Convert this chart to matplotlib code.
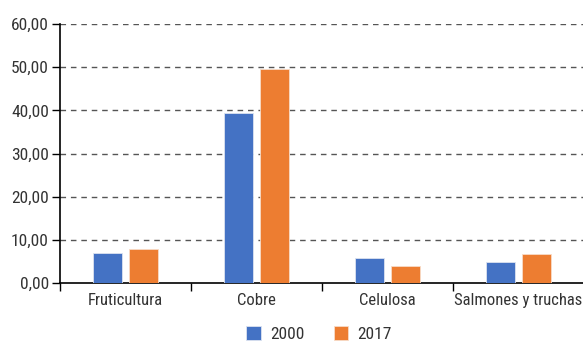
import numpy as np
import matplotlib.pyplot as plt
from matplotlib.ticker import FuncFormatter

# datos
categorias = ["Fruticultura", "Cobre", "Celulosa", "Salmones y truchas"]
valores_2000 = [6.9, 39.3, 5.7, 4.9]
valores_2017 = [7.9, 49.5, 3.9, 6.8]
anios = ["2000", "2017"]

plt.rcParams['font.family'] = ['Roboto Condensed', 'DejaVu Sans']

fig = plt.figure(figsize=(5.83, 3.41), dpi=100)
ax = fig.add_axes([60/583, 1 - 283/341, 524/583, 259/341])

x = np.arange(len(categorias))
ancho = 0.22
sep = 0.14
ax.bar(x - sep, valores_2000, ancho, color='#4472C4', edgecolor='#dce3f0', linewidth=0.6, label=anios[0], zorder=3)
ax.bar(x + sep, valores_2017, ancho, color='#ED7D31', edgecolor='#f8dcc8', linewidth=0.6, label=anios[1], zorder=3)

ax.set_xlim(-0.5, len(categorias) - 0.5)
ax.set_ylim(0, 60)
ax.set_yticks(np.arange(0, 61, 10))
ax.yaxis.set_major_formatter(FuncFormatter(lambda v, p: f"{v:.2f}".replace('.', ',')))
for yv in np.arange(10, 61, 10):
    ax.axhline(yv, color='#555555', linestyle=(0, (4, 3.5)), linewidth=1, zorder=1)

ax.set_xticks(np.arange(-0.5, len(categorias)), minor=False)
ax.set_xticklabels([])
ax.set_xticks(x, minor=True)
ax.set_xticklabels(categorias, minor=True)
ax.tick_params(axis='x', which='major', length=6, width=1, direction='out', colors='black')
ax.tick_params(axis='x', which='minor', length=0, pad=7, labelsize=12, labelcolor='#333333')
ax.tick_params(axis='y', length=6, width=1, direction='out', labelsize=12.5, labelcolor='#333333', pad=2)

for s in ['top', 'right']:
    ax.spines[s].set_visible(False)
ax.spines['left'].set_linewidth(1.2)
ax.spines['bottom'].set_linewidth(1.2)

fig.legend(loc='lower center', bbox_to_anchor=(0.547, -0.05), ncol=2, frameon=False,
           fontsize=12.5, handlelength=0.85, handleheight=0.85, columnspacing=1.7,
           handletextpad=0.5, labelcolor='#333333')

fig.savefig("out.png", dpi=100)
